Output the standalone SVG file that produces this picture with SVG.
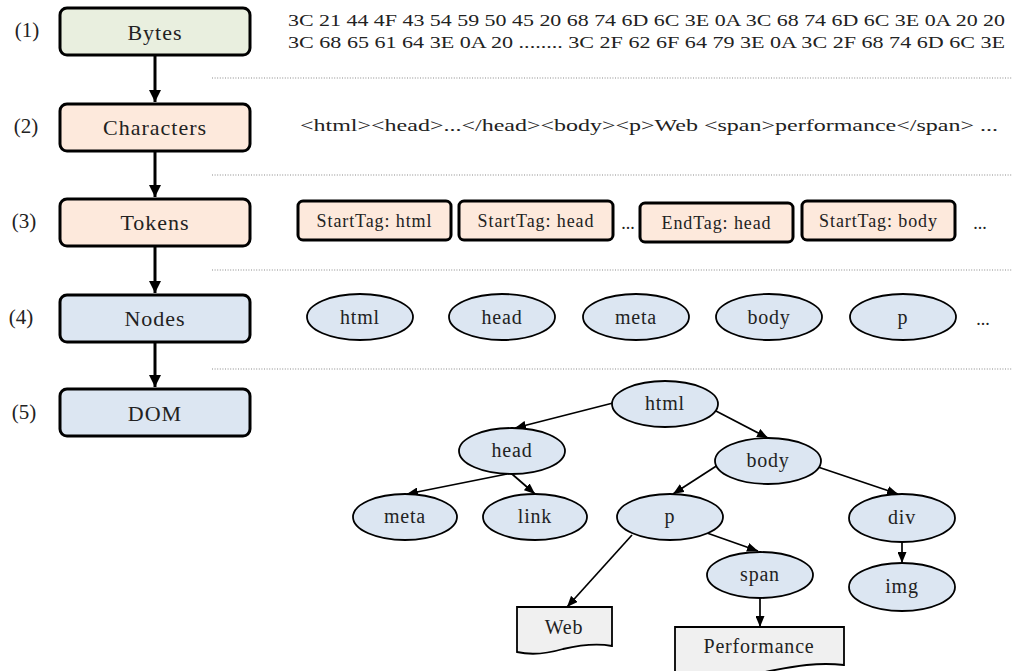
<svg xmlns="http://www.w3.org/2000/svg" width="1014" height="671" viewBox="0 0 1014 671" font-family="Liberation Serif, DejaVu Serif, serif">
  <style>
    text { font-family: "Liberation Serif", "DejaVu Serif", serif; fill: #222; }
    .stage { stroke: #000; stroke-width: 3; }
    .bytes { fill: #e9efdf; }
    .chars { fill: #fde9dc; }
    .nodes { fill: #dce6f2; }
    .lbl { font-size: 22px; letter-spacing: 1px; text-anchor: middle; }
    .num { font-size: 21px; text-anchor: middle; }
    .tok { fill: #fde9dc; stroke: #000; stroke-width: 3; }
    .toktxt { font-size: 18px; letter-spacing: 0.9px; text-anchor: middle; }
    .ell { fill: #dce6f2; stroke: #000; stroke-width: 1.8; }
    .etxt { font-size: 20px; letter-spacing: 0.8px; text-anchor: middle; }
    .doc { fill: #f0f0f0; stroke: #000; stroke-width: 1.8; }
    .sep { stroke: #8a8a8a; stroke-width: 1.2; stroke-dasharray: 1 1.6; }
    .flow { stroke: #000; stroke-width: 3; fill: none; marker-end: url(#bigArrow); }
    .edge { stroke: #000; stroke-width: 1.7; fill: none; marker-end: url(#arrow); }
    .raw { font-size: 17px; }
    .dots { font-size: 18px; text-anchor: middle; }
  </style>
  <defs>
    <marker id="arrow" markerUnits="userSpaceOnUse" markerWidth="11" markerHeight="9" refX="11" refY="4.5" orient="auto">
      <path d="M0,0 L11,4.5 L0,9 z" fill="#000"/>
    </marker>
    <marker id="bigArrow" markerUnits="userSpaceOnUse" markerWidth="12" markerHeight="12" refX="12" refY="6" orient="auto">
      <path d="M0,0 L12,6 L0,12 z" fill="#000"/>
    </marker>
  </defs>

  <rect width="1014" height="671" fill="#fff"/>

  <!-- stage numbers -->
  <g id="stage-numbers">
    <text class="num" x="27" y="37">(1)</text>
    <text class="num" x="26" y="133">(2)</text>
    <text class="num" x="24" y="228">(3)</text>
    <text class="num" x="21" y="324">(4)</text>
    <text class="num" x="24" y="419">(5)</text>
  </g>

  <!-- pipeline stages -->
  <g id="stage-bytes">
    <rect class="stage bytes" x="60" y="8" width="190" height="47" rx="7"/>
    <text class="lbl" x="155" y="39.5">Bytes</text>
  </g>
  <g id="stage-characters">
    <rect class="stage chars" x="60" y="104" width="190" height="47" rx="7"/>
    <text class="lbl" x="155" y="135">Characters</text>
  </g>
  <g id="stage-tokens">
    <rect class="stage chars" x="60" y="199" width="190" height="47" rx="7"/>
    <text class="lbl" x="155" y="230">Tokens</text>
  </g>
  <g id="stage-nodes">
    <rect class="stage nodes" x="60" y="295" width="190" height="47" rx="7"/>
    <text class="lbl" x="155" y="326">Nodes</text>
  </g>
  <g id="stage-dom">
    <rect class="stage nodes" x="60" y="389" width="190" height="47" rx="7"/>
    <text class="lbl" x="155" y="421">DOM</text>
  </g>

  <!-- row separators -->
  <g id="separators">
    <line class="sep" x1="212" y1="78" x2="1012" y2="78"/>
    <line class="sep" x1="212" y1="175" x2="1012" y2="175"/>
    <line class="sep" x1="212" y1="270" x2="1012" y2="270"/>
    <line class="sep" x1="212" y1="369" x2="1012" y2="369"/>
  </g>

  <!-- row 1: raw bytes -->
  <g id="row-bytes">
    <text class="raw" x="288" y="26" textLength="717" lengthAdjust="spacingAndGlyphs">3C 21 44 4F 43 54 59 50 45 20 68 74 6D 6C 3E 0A 3C 68 74 6D 6C 3E 0A 20 20</text>
    <text class="raw" x="288" y="48" textLength="717" lengthAdjust="spacingAndGlyphs">3C 68 65 61 64 3E 0A 20 ........ 3C 2F 62 6F 64 79 3E 0A 3C 2F 68 74 6D 6C 3E</text>
  </g>

  <!-- row 2: characters -->
  <g id="row-characters">
    <text x="300" y="131" font-size="17" textLength="698" lengthAdjust="spacingAndGlyphs">&lt;html&gt;&lt;head&gt;...&lt;/head&gt;&lt;body&gt;&lt;p&gt;Web &lt;span&gt;performance&lt;/span&gt; ...</text>
  </g>

  <!-- row 3: tokens -->
  <g id="token-starttag-html">
    <rect class="tok" x="298" y="201" width="153" height="39" rx="5"/>
    <text class="toktxt" x="374.5" y="227">StartTag: html</text>
  </g>
  <g id="token-starttag-head">
    <rect class="tok" x="459" y="201" width="154" height="39" rx="5"/>
    <text class="toktxt" x="536" y="227">StartTag: head</text>
  </g>
  <text class="dots" x="628" y="229">...</text>
  <g id="token-endtag-head">
    <rect class="tok" x="640" y="203" width="153" height="39" rx="5"/>
    <text class="toktxt" x="716.5" y="229">EndTag: head</text>
  </g>
  <g id="token-starttag-body">
    <rect class="tok" x="802" y="201" width="153" height="39" rx="5"/>
    <text class="toktxt" x="878.5" y="227">StartTag: body</text>
  </g>
  <text class="dots" x="980" y="229">...</text>

  <!-- row 4: nodes -->
  <g id="node-html">
    <ellipse class="ell" cx="360" cy="317" rx="53" ry="23"/>
    <text class="etxt" x="360" y="324">html</text>
  </g>
  <g id="node-head">
    <ellipse class="ell" cx="502" cy="317" rx="53" ry="23"/>
    <text class="etxt" x="502" y="324">head</text>
  </g>
  <g id="node-meta">
    <ellipse class="ell" cx="636" cy="317" rx="53" ry="23"/>
    <text class="etxt" x="636" y="324">meta</text>
  </g>
  <g id="node-body">
    <ellipse class="ell" cx="769" cy="317" rx="53" ry="23"/>
    <text class="etxt" x="769" y="324">body</text>
  </g>
  <g id="node-p">
    <ellipse class="ell" cx="903" cy="317" rx="53" ry="23"/>
    <text class="etxt" x="903" y="324">p</text>
  </g>
  <text class="dots" x="983" y="325">...</text>

  <!-- connectors -->
  <g id="connectors">
    <line class="flow" x1="155" y1="56" x2="155" y2="102"/>
    <line class="flow" x1="155" y1="152" x2="155" y2="197"/>
    <line class="flow" x1="155" y1="247" x2="155" y2="293"/>
    <line class="flow" x1="155" y1="343" x2="155" y2="387"/>

    <line class="edge" x1="613" y1="403" x2="515" y2="428"/>
    <line class="edge" x1="716" y1="411" x2="768" y2="438"/>
    <line class="edge" x1="507" y1="474" x2="407" y2="494"/>
    <line class="edge" x1="512" y1="474" x2="535" y2="494"/>
    <line class="edge" x1="721" y1="463" x2="673" y2="494"/>
    <line class="edge" x1="818" y1="467" x2="898" y2="494"/>
    <line class="edge" x1="902" y1="541" x2="902" y2="563"/>
    <line class="edge" x1="632" y1="535" x2="567" y2="607"/>
    <line class="edge" x1="707" y1="533" x2="758" y2="551"/>
    <line class="edge" x1="760" y1="598" x2="760" y2="627"/>
  </g>

  <!-- row 5: DOM tree -->
  <g id="dom-html">
    <ellipse class="ell" cx="665" cy="404" rx="53" ry="23"/>
    <text class="etxt" x="665" y="410">html</text>
  </g>
  <g id="dom-head">
    <ellipse class="ell" cx="512" cy="451" rx="53" ry="23"/>
    <text class="etxt" x="512" y="457">head</text>
  </g>
  <g id="dom-body">
    <ellipse class="ell" cx="768" cy="461" rx="53" ry="23"/>
    <text class="etxt" x="768" y="467">body</text>
  </g>
  <g id="dom-meta">
    <ellipse class="ell" cx="405" cy="517" rx="52" ry="23"/>
    <text class="etxt" x="405" y="523">meta</text>
  </g>
  <g id="dom-link">
    <ellipse class="ell" cx="535" cy="517" rx="52" ry="23"/>
    <text class="etxt" x="535" y="523">link</text>
  </g>
  <g id="dom-p">
    <ellipse class="ell" cx="670" cy="517" rx="53" ry="23"/>
    <text class="etxt" x="670" y="523">p</text>
  </g>
  <g id="dom-div">
    <ellipse class="ell" cx="902" cy="518" rx="53" ry="24"/>
    <text class="etxt" x="902" y="524">div</text>
  </g>
  <g id="dom-img">
    <ellipse class="ell" cx="902" cy="587" rx="53" ry="24"/>
    <text class="etxt" x="902" y="593">img</text>
  </g>
  <g id="dom-span">
    <ellipse class="ell" cx="760" cy="575" rx="53" ry="23"/>
    <text class="etxt" x="760" y="581">span</text>
  </g>
  <g id="text-web">
    <path class="doc" d="M517,607 H612 V646 C597,643 580,645 563,649 C546,654 530,655 517,652 Z"/>
    <text class="etxt" x="564" y="634">Web</text>
  </g>
  <g id="text-performance">
    <path class="doc" d="M675,627 H844 V665 C818,662 795,666 770,671 C740,677 700,679 675,676 Z"/>
    <text class="etxt" x="759" y="653">Performance</text>
  </g>
</svg>
